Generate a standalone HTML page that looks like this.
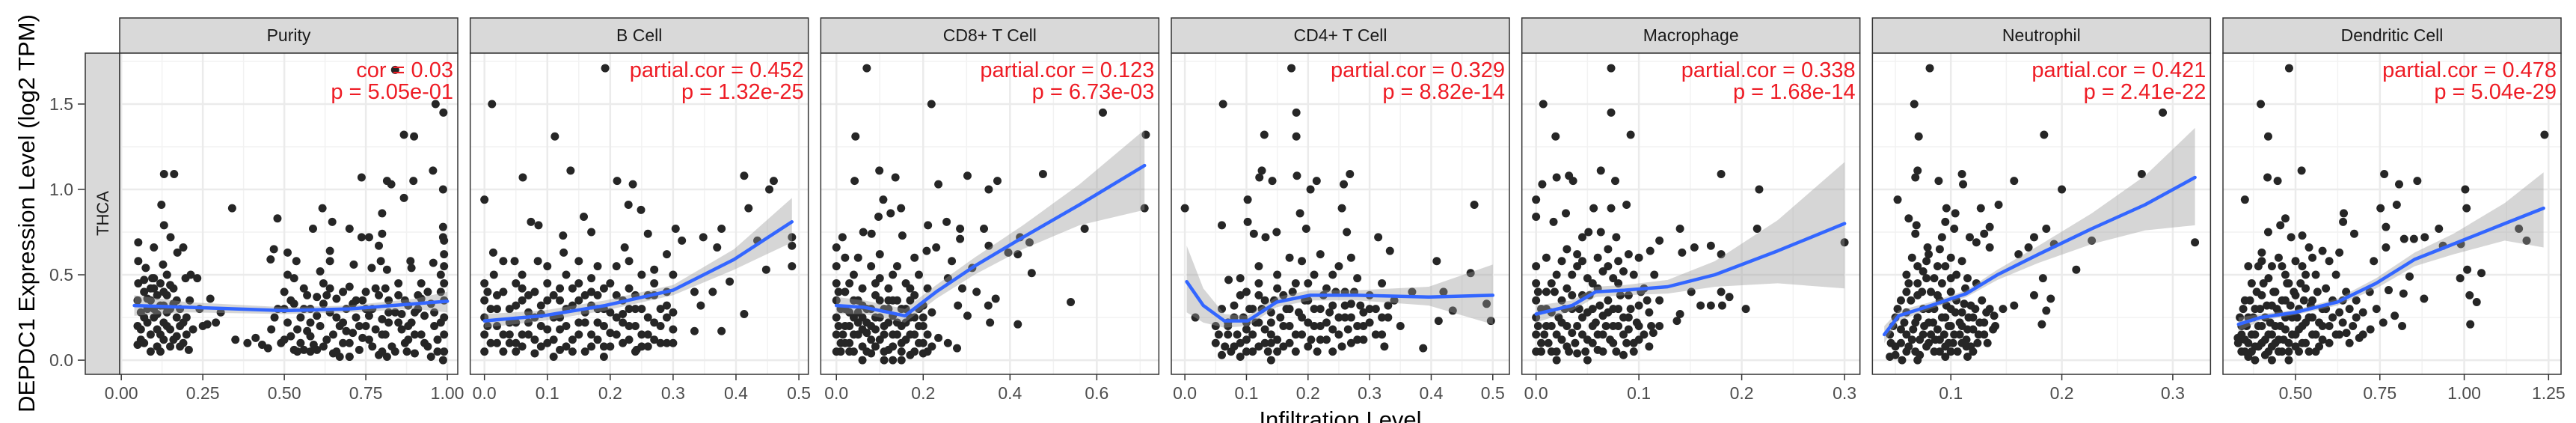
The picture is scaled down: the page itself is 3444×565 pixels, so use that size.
<!DOCTYPE html>
<html><head><meta charset="utf-8"><style>
html,body{margin:0;padding:0;background:#fff;}
svg{display:block;font-family:"Liberation Sans",Arial,sans-serif;}
</style></head><body>
<svg id="chart" width="3444" height="565" viewBox="0 0 3444 565" xmlns="http://www.w3.org/2000/svg"></svg>
<script>
const panelNames = ["Purity","B Cell","CD8+ T Cell","CD4+ T Cell","Macrophage","Neutrophil","Dendritic Cell"];
const corLabels = ["cor = 0.03","partial.cor = 0.452","partial.cor = 0.123","partial.cor = 0.329","partial.cor = 0.338","partial.cor = 0.421","partial.cor = 0.478"];
const pLabels = ["p = 5.05e-01","p = 1.32e-25","p = 6.73e-03","p = 8.82e-14","p = 1.68e-14","p = 2.41e-22","p = 5.04e-29"];
const xDomains = [[-0.005,1.032],[-0.0226,0.515],[-0.036,0.743],[-0.022,0.527],[-0.0138,0.315],[0.0293,0.334],[0.285,1.287]];
const xTicks = [[0,0.25,0.5,0.75,1.0],[0,0.1,0.2,0.3,0.4,0.5],[0,0.2,0.4,0.6],[0,0.1,0.2,0.3,0.4,0.5],[0,0.1,0.2,0.3],[0.1,0.2,0.3],[0.5,0.75,1.0,1.25]];
const xTickLabels = [["0.00","0.25","0.50","0.75","1.00"],["0.0","0.1","0.2","0.3","0.4","0.5"],["0.0","0.2","0.4","0.6"],["0.0","0.1","0.2","0.3","0.4","0.5"],["0.0","0.1","0.2","0.3"],["0.1","0.2","0.3"],["0.50","0.75","1.00","1.25"]];
const yTicks = [0,0.5,1.0,1.5];
const yTickLabels = ["0.0","0.5","1.0","1.5"];
const yDomain = [-0.083,1.798];

const pts0 = [[.84,1.70],[.964,1.50],[.988,1.45],[.867,1.32],[.898,1.31],[.956,1.11],[.737,1.07],[.815,1.05],[.828,1.03],[.896,1.05],[.987,1.00],[.867,.95],[.131,1.09],[.162,1.09],[.123,.91],[.34,.89],[.479,.83],[.617,.89],[.647,.81],[.588,.77],[.80,.86],[.70,.77],[.131,.79],[.151,.72],[.052,.69],[.10,.66],[.19,.66],[.172,.63],[.468,.65],[.51,.63],[.737,.72],[.76,.72],[.79,.67],[.80,.74],[.987,.78],[.987,.72],[.64,.64],[.64,.58],[.458,.59],[.537,.58],[.957,.57],[.887,.58],[.89,.54],[.713,.56],[.768,.54],[.796,.58],[.052,.58],[.075,.54],[.128,.56],[.14,.50],[.095,.48],[.197,.48],[.213,.50],[.233,.48],[.052,.45],[.51,.50],[.53,.48],[.815,.53],[.61,.52],[.35,.12],[.387,.10],[.412,.13],[.432,.09],[.45,.07],[.05,.09],[.207,.06],[.29,.22],[.264,.21],[.305,.28],[.273,.36],[.987,0.0],[.70,.02],[.67,.02],[.815,.02],[.876,.05],[.56,.06],[.58,.05],
[.05,.35],[.06,.28],[.05,.2],[.06,.12],[.07,.4],[.08,.3],[.08,.22],[.09,.15],[.09,.35],[.1,.42],[.1,.25],[.11,.18],[.11,.08],[.12,.32],[.12,.45],[.13,.22],[.13,.12],[.14,.38],[.14,.28],[.15,.18],[.15,.08],[.16,.33],[.16,.42],[.17,.25],[.17,.14],[.18,.3],[.18,.2],[.19,.1],[.2,.25],[.21,.35],[.22,.18],[.24,.3],[.25,.2],[.12,.05],[.1,.48],[.14,.5],[.07,.47],
[.46,.18],[.48,.3],[.49,.1],[.5,.4],[.51,.22],[.52,.14],[.53,.33],[.54,.05],[.55,.25],[.56,.42],[.57,.17],[.58,.3],[.59,.09],[.6,.37],[.61,.2],[.62,.45],[.63,.12],[.64,.28],[.65,.04],[.66,.36],[.67,.2],[.68,.1],[.69,.3],[.7,.43],[.71,.16],[.72,.25],[.73,.06],[.74,.35],[.75,.2],[.76,.12],[.77,.3],[.78,.42],[.79,.03],[.8,.24],[.81,.15],[.82,.35],[.83,.08],[.84,.28],[.85,.45],[.86,.18],[.87,.1],[.88,.32],[.89,.22],[.9,.04],[.91,.38],[.92,.15],[.93,.26],[.94,.08],[.95,.33],[.96,.2],[.97,.12],[.98,.4],[.99,.05],[.99,.15],[.99,.25],[.99,.35],[.99,.45],[.99,.55],[.99,.62],[.99,.7],[.98,.5],[.6,.06],[.7,.02],[.8,.05],[.75,.4],[.65,.15],[.85,.38],[.9,.28],[.55,.1],[.5,.3],[.62,.33],[.72,.35],[.82,.22],[.92,.45],[.68,.22],[.78,.18],[.88,.12],[.58,.22],[.95,.02]];
const core0 = [[.06,.18],[.07,.1],[.08,.36],[.09,.05],[.1,.3],[.11,.38],[.12,.15],[.13,.4],[.14,.2],[.15,.3],[.16,.12],[.17,.35],[.18,.08],[.19,.22],[.11,.27],[.13,.32],[.07,.25],[.09,.42],[.15,.44],[.2,.15],
[.47,.25],[.5,.12],[.52,.35],[.54,.18],[.56,.3],[.58,.14],[.6,.26],[.62,.08],[.63,.38],[.66,.25],[.68,.4],[.7,.1],[.71,.33],[.73,.2],[.75,.3],[.77,.08],[.79,.38],[.8,.15],[.82,.28],[.84,.05],[.85,.22],[.87,.35],[.88,.2],[.9,.15],[.91,.3],[.93,.1],[.94,.4],[.96,.28],[.97,.05],[.98,.22],[.66,.05],[.74,.13],[.86,.27],[.92,.36],[.81,.42],[.64,.42],[.57,.38],[.53,.06],[.76,.26],[.69,.17]];
const pts1 = [[.192,1.71],[.012,1.50],[.112,1.31],[.137,1.11],[.061,1.07],[.211,1.05],[.236,1.03],[.413,1.08],[.46,1.05],[.453,1.0],[0,.94],[.42,.89],[.229,.91],[.249,.88],[.074,.81],[.086,.79],[.158,.84],[.125,.73],[.17,.75],[.26,.74],[.304,.77],[.377,.77],[.348,.72],[.434,.70],[.489,.72],[.489,.67],[.37,.66],[.223,.66],[.314,.70],[.014,.63],[.126,.63],[.048,.58],[.085,.58],[.489,.55],[.448,.53],[.39,.46],[.334,.40],[.344,.32],[.413,.27],[.363,.40],[.334,.17],[.377,.17],[.242,.06],[.27,.53],[.29,.62],
[.0,.05],[.0,.15],[.0,.25],[.0,.35],[.0,.45],[.01,.1],[.01,.3],[.015,.5],[.02,.2],[.03,.05],[.03,.4],[.04,.15],[.04,.3],[.05,.22],[.05,.45],[.06,.08],[.06,.35],[.07,.15],[.07,.28],[.08,.04],[.08,.4],[.09,.2],[.09,.32],[.1,.1],[.1,.45],[.11,.25],[.11,.38],[.12,.06],[.12,.18],[.13,.3],[.13,.5],[.14,.12],[.14,.42],[.15,.22],[.15,.35],[.16,.05],[.16,.28],[.17,.15],[.17,.48],[.18,.38],[.18,.22],[.19,.08],[.19,.3],[.2,.45],[.2,.16],[.21,.25],[.21,.55],[.22,.35],[.22,.1],[.23,.2],[.23,.42],[.24,.3],[.24,.05],[.25,.5],[.25,.15],[.26,.25],[.26,.38],[.27,.12],[.27,.45],[.28,.3],[.28,.2],[.29,.4],[.29,.1],[.3,.28],[.3,.5],[.3,.18],[.02,.38],[.06,.5],[.1,.55],[.15,.58],[.18,.55],[.23,.58],[.12,.35],[.08,.25],[.17,.4],[.22,.27],[.03,.58],[.05,.1],[.11,.02],[.19,.02],[.26,.08]];
const core1 = [[.005,.2],[.005,.4],[.02,.1],[.02,.3],[.03,.15],[.04,.22],[.05,.05],[.05,.32],[.06,.15],[.07,.22],[.07,.38],[.08,.12],[.09,.08],[.09,.27],[.1,.18],[.1,.35],[.11,.12],[.12,.25],[.12,.42],[.13,.08],[.13,.2],[.14,.32],[.15,.15],[.15,.45],[.16,.22],[.16,.38],[.17,.08],[.17,.32],[.18,.12],[.18,.3],[.19,.2],[.19,.42],[.2,.08],[.2,.28],[.21,.15],[.21,.38],[.22,.22],[.23,.12],[.23,.3],[.24,.2],[.24,.38],[.25,.08],[.25,.3],[.26,.15],[.27,.22],[.27,.38],[.28,.1],[.29,.25],[.29,.32],[.3,.1],[.04,.1],[.14,.05],[.06,.42]];
const pts2 = [[.07,1.71],[.219,1.50],[.614,1.45],[.044,1.31],[.713,1.32],[.099,1.11],[.136,1.07],[.042,1.05],[.235,1.03],[.302,1.08],[.371,1.05],[.351,1.0],[.476,1.09],[.108,.94],[.149,.89],[.125,.86],[.097,.84],[.211,.79],[.254,.81],[.285,.77],[.285,.71],[.34,.77],[.572,.77],[.014,.72],[.062,.75],[.081,.74],[.152,.73],[.71,.89],[.208,.64],[.23,.66],[.351,.67],[.266,.58],[.396,.63],[.423,.72],[.445,.69],[.418,.62],[.45,.51],[.313,.54],[.257,.48],[.29,.42],[.323,.40],[.367,.36],[.35,.32],[.28,.32],[.302,.26],[.54,.34],[.354,.22],[.418,.21],[.278,.07],[.257,.10],[.235,.13],[.0,.66],
[.0,.05],[.0,.15],[.0,.25],[.0,.35],[.0,.45],[.0,.55],[.01,.1],[.01,.3],[.02,.2],[.02,.4],[.02,.6],[.03,.05],[.03,.28],[.04,.15],[.04,.5],[.05,.35],[.05,.22],[.06,.08],[.06,.42],[.07,.3],[.07,.16],[.08,.55],[.08,.04],[.09,.25],[.09,.38],[.1,.12],[.1,.48],[.11,.2],[.11,.3],[.12,.06],[.12,.42],[.13,.15],[.13,.26],[.14,.35],[.14,.55],[.15,.1],[.15,.2],[.16,.45],[.16,.3],[.17,.03],[.17,.15],[.18,.25],[.18,.38],[.19,.1],[.19,.5],[.2,.2],[.2,.32],[.21,.15],[.21,.42],[.22,.28],[.22,.08],[.05,.6],[.1,.62],[.03,.45],[.13,.5],[.18,.6],[.11,.0],[.15,.0],[.2,.04],[.06,.25],[.12,.35],[.08,.2]];
const core2 = [[.005,.2],[.005,.4],[.01,.05],[.015,.15],[.02,.3],[.03,.1],[.03,.2],[.04,.35],[.04,.05],[.05,.15],[.05,.28],[.06,.18],[.06,.32],[.07,.05],[.07,.22],[.08,.12],[.08,.3],[.09,.08],[.09,.18],[.1,.25],[.1,.35],[.11,.05],[.11,.15],[.12,.22],[.12,.3],[.13,.08],[.13,.35],[.14,.15],[.14,.22],[.15,.05],[.15,.3],[.16,.12],[.16,.22],[.17,.25],[.17,.35],[.18,.05],[.18,.15],[.19,.2],[.19,.3],[.2,.1],[.2,.25],[.21,.05],[.06,.0],[.09,.45],[.02,.1],[.13,.0],[.17,.42],[.04,.25]];
const pts3 = [[.173,1.71],[.062,1.50],[.181,1.45],[.129,1.32],[.181,1.31],[.125,1.11],[.121,1.07],[.142,1.05],[.182,1.08],[.214,1.05],[.268,1.09],[.258,1.03],[.204,1.0],[.102,.94],[.0,.89],[.255,.89],[.47,.91],[.06,.79],[.102,.81],[.187,.86],[.197,.77],[.149,.75],[.112,.74],[.131,.72],[.263,.75],[.314,.72],[.333,.64],[.409,.58],[.464,.51],[.071,.47],[.017,.25],[.412,.23],[.387,.07],[.324,.08],[.435,.29],[.497,.23],[.49,.33],[.369,.40],[.42,.40],
[.05,.1],[.05,.2],[.06,.03],[.06,.3],[.07,.15],[.08,.08],[.08,.25],[.09,.38],[.09,.02],[.1,.18],[.1,.12],[.11,.3],[.11,.05],[.12,.22],[.12,.45],[.13,.1],[.13,.35],[.14,.15],[.14,.28],[.15,.05],[.15,.5],[.16,.2],[.16,.38],[.17,.1],[.17,.3],[.18,.45],[.18,.15],[.19,.25],[.19,.58],[.2,.08],[.2,.35],[.21,.2],[.21,.5],[.22,.3],[.22,.12],[.23,.42],[.23,.22],[.24,.05],[.24,.32],[.25,.15],[.25,.55],[.26,.25],[.26,.4],[.27,.1],[.27,.33],[.28,.2],[.28,.48],[.29,.28],[.29,.12],[.3,.38],[.3,.22],[.31,.3],[.32,.15],[.32,.45],[.33,.25],[.34,.35],[.35,.2],[.12,.55],[.17,.6],[.22,.62],[.27,.6],[.1,.4],[.15,.42],[.2,.45],[.07,.22],[.14,.0],[.09,.48],[.24,.5]];
const core3 = [[.055,.15],[.065,.08],[.07,.2],[.075,.05],[.085,.15],[.09,.1],[.095,.25],[.1,.05],[.105,.3],[.11,.15],[.115,.22],[.12,.08],[.125,.3],[.13,.18],[.135,.05],[.14,.22],[.145,.35],[.15,.12],[.155,.25],[.16,.08],[.165,.3],[.17,.2],[.175,.4],[.18,.05],[.185,.28],[.19,.15],[.195,.35],[.2,.22],[.205,.12],[.21,.3],[.215,.05],[.22,.2],[.225,.38],[.23,.12],[.235,.28],[.24,.18],[.245,.4],[.25,.25],[.255,.08],[.26,.32],[.265,.18],[.27,.25],[.275,.4],[.28,.12],[.285,.32],[.29,.2],[.3,.3],[.31,.15],[.32,.25],[.33,.32],[.08,.32],[.1,.22],[.12,.38],[.14,.1]];
const pts4 = [[.073,1.71],[.007,1.50],[.073,1.45],[.019,1.31],[.092,1.32],[.063,1.11],[.02,1.07],[.032,1.08],[.036,1.05],[.006,1.03],[.077,1.05],[.18,1.09],[.217,1.0],[0,.94],[.056,.89],[.073,.89],[.088,.91],[.029,.86],[.017,.81],[0,.84],[.14,.77],[.215,.77],[.3,.69],[.051,.75],[.063,.75],[.078,.72],[.045,.72],[.12,.70],[.17,.67],[.154,.66],[.142,.63],[.18,.62],[.111,.64],[.151,.40],[.16,.32],[.17,.32],[.181,.32],[.18,.40],[.188,.37],[.204,.30],[.14,.27],[.137,.23],[.114,.16],
[.0,.05],[.0,.15],[.0,.25],[.0,.35],[.0,.45],[.0,.55],[.005,.1],[.005,.3],[.01,.2],[.01,.4],[.01,.6],[.015,.05],[.015,.28],[.02,.15],[.02,.5],[.025,.35],[.025,.22],[.03,.08],[.03,.42],[.035,.3],[.035,.16],[.04,.55],[.04,.04],[.045,.25],[.045,.38],[.05,.12],[.05,.48],[.055,.2],[.055,.3],[.06,.06],[.06,.42],[.065,.15],[.065,.26],[.07,.35],[.07,.55],[.075,.1],[.075,.2],[.08,.45],[.08,.3],[.085,.03],[.085,.15],[.09,.25],[.09,.38],[.095,.1],[.095,.5],[.1,.2],[.1,.32],[.105,.15],[.105,.42],[.11,.28],[.11,.08],[.115,.5],[.12,.35],[.12,.2],[.04,.62],[.06,.6],[.08,.58],[.1,.6],[.02,.0],[.05,.0],[.03,.65],[.07,.65],[.09,.62]];
const core4 = [[.002,.2],[.002,.4],[.005,.05],[.008,.15],[.01,.3],[.012,.1],[.015,.2],[.018,.4],[.02,.05],[.022,.25],[.025,.12],[.028,.3],[.03,.2],[.032,.05],[.035,.38],[.038,.1],[.04,.2],[.042,.3],[.045,.15],[.048,.05],[.05,.28],[.052,.38],[.055,.1],[.058,.22],[.06,.15],[.062,.32],[.065,.05],[.068,.2],[.07,.28],[.072,.12],[.075,.3],[.078,.05],[.08,.2],[.082,.38],[.085,.25],[.088,.1],[.09,.18],[.092,.3],[.095,.05],[.098,.22],[.1,.12],[.102,.4],[.108,.35],[.112,.2],[.015,.45],[.035,.5],[.055,.45],[.075,.48],[.025,.58],[.045,.58],[.065,.52],[.085,.52]];
const pts5 = [[.081,1.71],[.067,1.50],[.071,1.31],[.184,1.32],[.291,1.45],[.07,1.11],[.068,1.07],[.089,1.05],[.11,1.09],[.111,1.03],[.157,1.05],[.272,1.09],[.2,1.0],[.052,.94],[.096,.89],[.104,.86],[.127,.89],[.143,.91],[.062,.83],[.069,.79],[.095,.81],[.103,.77],[.186,.77],[.068,.74],[.092,.72],[.117,.72],[.13,.74],[.135,.78],[.175,.72],[.227,.70],[.32,.69],[.079,.66],[.123,.69],[.135,.66],[.17,.66],[.161,.62],[.193,.68],[.213,.53],[.183,.48],[.175,.38],[.19,.36],[.186,.29],[.182,.21],[.157,.32],[.147,.30],[.139,.26],[.14,.20],[.114,.08],[.045,.02],[.056,0.0],
[.045,.15],[.05,.25],[.05,.08],[.055,.35],[.055,.18],[.06,.05],[.06,.28],[.062,.45],[.065,.12],[.068,.22],[.07,.55],[.07,.38],[.072,.03],[.075,.15],[.075,.3],[.078,.48],[.08,.1],[.08,.22],[.082,.4],[.085,.05],[.085,.3],[.088,.18],[.088,.55],[.09,.12],[.09,.35],[.092,.45],[.095,.08],[.095,.25],[.098,.2],[.1,.4],[.1,.3],[.1,.05],[.103,.15],[.105,.5],[.105,.35],[.108,.22],[.11,.1],[.11,.28],[.113,.42],[.115,.18],[.118,.32],[.12,.05],[.12,.25],[.123,.45],[.125,.15],[.128,.35],[.13,.22],[.133,.1],[.135,.3],[.138,.18],[.065,.6],[.08,.62],[.09,.65],[.1,.6],[.06,.5],[.078,.58],[.11,.58],[.095,.02],[.115,.02],[.07,.0]];
const core5 = [[.046,.1],[.048,.2],[.05,.03],[.052,.3],[.055,.1],[.058,.22],[.06,.15],[.062,.08],[.064,.35],[.066,.18],[.068,.05],[.07,.25],[.072,.12],[.074,.4],[.076,.2],[.078,.08],[.08,.3],[.082,.15],[.084,.22],[.086,.12],[.088,.38],[.09,.05],[.092,.25],[.094,.15],[.096,.32],[.098,.1],[.1,.2],[.102,.1],[.104,.28],[.106,.05],[.108,.15],[.11,.2],[.112,.33],[.114,.12],[.116,.25],[.118,.08],[.12,.18],[.122,.3],[.124,.1],[.126,.22],[.13,.15],[.132,.28],[.07,.45],[.085,.48],[.1,.48],[.115,.48],[.075,.52],[.095,.55],[.06,.4]];
const pts6 = [[.481,1.71],[.397,1.50],[.419,1.31],[.518,1.11],[.417,1.07],[.447,1.05],[.763,1.09],[.807,1.03],[.861,1.05],[1.003,1.0],[1.007,.89],[1.238,1.32],[.35,.94],[.752,.89],[.8,.91],[.643,.86],[.641,.81],[.47,.83],[.455,.79],[.768,.78],[.925,.77],[1.162,.77],[1.185,.70],[.419,.75],[.487,.72],[.52,.73],[.674,.74],[.822,.71],[.851,.71],[.883,.72],[.937,.67],[.99,.68],[.768,.66],[.54,.66],[.58,.64],[.63,.63],[.4,.63],[1.009,.53],[1.051,.51],[.988,.48],[.881,.36],[1.016,.38],[1.037,.34],[1.018,.21],[.816,.20],[.794,.26],[.76,.22],[.82,.39],[.838,.49],[.732,.58],[.776,.41],[.689,.13],[.722,.18],[.651,.16],[.329,.13],
[.34,.05],[.34,.2],[.35,.12],[.35,.35],[.36,.02],[.36,.25],[.37,.15],[.37,.45],[.38,.08],[.38,.3],[.39,.2],[.39,.55],[.4,.1],[.4,.38],[.41,.03],[.41,.25],[.42,.15],[.42,.48],[.43,.32],[.43,.08],[.44,.2],[.44,.4],[.45,.12],[.45,.28],[.46,.05],[.46,.55],[.47,.18],[.47,.35],[.48,.1],[.48,.45],[.49,.25],[.5,.15],[.5,.38],[.51,.05],[.51,.3],[.52,.2],[.52,.55],[.53,.1],[.53,.42],[.54,.25],[.55,.15],[.55,.35],[.56,.05],[.56,.5],[.57,.22],[.58,.3],[.58,.12],[.59,.42],[.6,.2],[.61,.35],[.62,.15],[.62,.5],[.63,.28],[.64,.22],[.65,.4],[.66,.3],[.67,.2],[.68,.35],[.7,.28],[.72,.4],[.74,.3],[.36,.55],[.4,.58],[.45,.6],[.5,.58],[.55,.6],[.6,.58],[.38,.0],[.43,0],[.48,.0]];
const core6 = [[.33,.1],[.335,.25],[.34,.15],[.345,.3],[.35,.05],[.355,.2],[.36,.1],[.365,.35],[.37,.05],[.375,.25],[.38,.15],[.385,.4],[.39,.08],[.395,.3],[.4,.2],[.405,.45],[.41,.12],[.415,.32],[.42,.05],[.425,.22],[.43,.15],[.435,.4],[.44,.1],[.445,.3],[.45,.05],[.455,.2],[.46,.35],[.465,.12],[.47,.25],[.475,.45],[.48,.05],[.485,.32],[.49,.15],[.495,.4],[.5,.08],[.505,.25],[.51,.18],[.515,.45],[.52,.1],[.525,.35],[.53,.22],[.54,.05],[.545,.32],[.55,.25],[.56,.15],[.565,.4],[.57,.08],[.58,.2],[.59,.3],[.6,.1],[.61,.25],[.63,.15],[.64,.35],[.66,.1],[.68,.25],[.7,.15],[.47,.5],[.43,.55],[.53,.5]];
const allPoints = [pts0.concat(core0),pts1.concat(core1),pts2.concat(core2),pts3.concat(core3),pts4.concat(core4),pts5.concat(core5),pts6.concat(core6)];

// loess fit: [x, fit, lower, upper]
const fit0 = [[.04,.32,.26,.38],[.2,.31,.28,.34],[.5,.29,.27,.31],[.7,.30,.28,.32],[.9,.33,.30,.36],[1.0,.345,.28,.40]];
const fit1 = [[0,.23,.19,.27],[.093,.26,.23,.29],[.192,.32,.29,.35],[.30,.41,.38,.44],[.397,.59,.53,.65],[.489,.81,.69,.95]];
const fit2 = [[0,.32,.27,.37],[.064,.31,.27,.35],[.158,.26,.22,.30],[.23,.40,.36,.44],[.318,.55,.50,.60],[.43,.72,.65,.79],[.56,.91,.79,1.03],[.71,1.14,.88,1.35]];
const fit3 = [[.003,.46,.28,.67],[.03,.32,.22,.42],[.064,.23,.19,.27],[.102,.23,.20,.26],[.149,.34,.31,.37],[.203,.38,.35,.41],[.28,.38,.35,.41],[.396,.37,.32,.43],[.5,.38,.21,.56]];
const fit4 = [[0,.27,.22,.32],[.035,.32,.29,.35],[.058,.40,.37,.43],[.086,.41,.38,.44],[.128,.43,.39,.47],[.174,.50,.43,.58],[.235,.64,.45,.82],[.3,.80,.42,1.16]];
const fit5 = [[.04,.15,.10,.20],[.053,.26,.23,.29],[.082,.32,.30,.34],[.114,.39,.37,.41],[.142,.50,.47,.53],[.179,.62,.57,.67],[.227,.77,.68,.86],[.275,.91,.76,1.08],[.32,1.07,.79,1.36]];
const fit6 = [[.331,.21,.17,.25],[.396,.25,.23,.27],[.5,.28,.265,.295],[.624,.34,.32,.36],[.739,.45,.42,.48],[.853,.59,.55,.63],[.968,.68,.62,.74],[1.12,.80,.70,.92],[1.235,.89,.66,1.10]];
const allFits = [fit0,fit1,fit2,fit3,fit4,fit5,fit6];

const NS = "http://www.w3.org/2000/svg";
const svg = document.getElementById("chart");
function mk(tag, attrs, parent, text){
  const e = document.createElementNS(NS, tag);
  for (const k in attrs) e.setAttribute(k, attrs[k]);
  if (text !== undefined) e.textContent = text;
  (parent || svg).appendChild(e);
  return e;
}
const PT = 71, PB = 500, PW = 452;
const panelLeft = i => 160 + i * 468.67;
const yScale = v => PB - (v - yDomain[0]) / (yDomain[1] - yDomain[0]) * (PB - PT);

const yt = mk("text", {x:0, y:0, transform:"translate(46,285) rotate(-90)", "text-anchor":"middle", "font-size":"31", fill:"#000"}, svg, "DEPDC1 Expression Level (log2 TPM)");



const rs = mk("rect", {x:114, y:PT, width:46, height:PB-PT, fill:"#d9d9d9", stroke:"#333", "stroke-width":"1.5"});


const rst = mk("text", {x:0, y:0, transform:"translate(145,285) rotate(-90)", "text-anchor":"middle", "font-size":"22", fill:"#1a1a1a"}, svg, "THCA");



yTicks.forEach((v, k) => {
  const y = yScale(v);
  const tm = mk("line", {x1:104, x2:113, y1:y, y2:y, stroke:"#333", "stroke-width":"1.5"});
  
  
  const tl = mk("text", {x:98, y:y+8, "text-anchor":"end", "font-size":"23", fill:"#4d4d4d"}, svg, yTickLabels[k]);
  
  
});

for (let i = 0; i < 7; i++) {
  const L = panelLeft(i), R = L + PW;
  const d = xDomains[i];
  const xs = v => L + (v - d[0]) / (d[1] - d[0]) * PW;
  const g = mk("g", {});
  
  

  const st = mk("rect", {x:L, y:24, width:PW, height:PT-24, fill:"#d9d9d9", stroke:"#333", "stroke-width":"1.5"}, g);
  
  
  const stt = mk("text", {x:L+PW/2, y:55, "text-anchor":"middle", "font-size":"23", fill:"#1a1a1a"}, g, panelNames[i]);
  
  

  const bg = mk("rect", {x:L, y:PT, width:PW, height:PB-PT, fill:"#fff"}, g);
  
  

  for (let k = 0; k < yTicks.length + 1; k++) {
    const v = -0.25 + k * 0.5;
    const y = yScale(v);
    if (y > PT && y < PB) {
      const gl = mk("line", {x1:L, x2:R, y1:y, y2:y, stroke:"#f2f2f2", "stroke-width":"1.5"}, g);
      
      
    }
  }
  const tks = xTicks[i];
  const step = tks[1] - tks[0];
  for (let k = -1; k < tks.length; k++) {
    const v = tks[0] + (k + 0.5) * step;
    const x = xs(v);
    if (x > L && x < R) {
      const gl = mk("line", {x1:x, x2:x, y1:PT, y2:PB, stroke:"#f2f2f2", "stroke-width":"1.5"}, g);
      
      
    }
  }
  yTicks.forEach(v => {
    const gl = mk("line", {x1:L, x2:R, y1:yScale(v), y2:yScale(v), stroke:"#ebebeb", "stroke-width":"2.5"}, g);
    
    
  });
  tks.forEach((v, k) => {
    const x = xs(v);
    const gl = mk("line", {x1:x, x2:x, y1:PT, y2:PB, stroke:"#ebebeb", "stroke-width":"2.5"}, g);
    
    
    const tm = mk("line", {x1:x, x2:x, y1:PB, y2:PB+8, stroke:"#333", "stroke-width":"1.5"}, g);
    
    
    const tl = mk("text", {x:x, y:533, "text-anchor":"middle", "font-size":"23", fill:"#4d4d4d"}, g, xTickLabels[i][k]);
    
    
  });

  allPoints[i].forEach(p => {
    const c = mk("circle", {cx:xs(p[0]), cy:yScale(p[1]), r:5.5, fill:"#262626"}, g);
    
    
  });

  const f = allFits[i];
  let bandD = f.map((q, k) => (k ? "L" : "M") + xs(q[0]).toFixed(1) + "," + yScale(q[3]).toFixed(1)).join(" ");
  bandD += " " + f.slice().reverse().map(q => "L" + xs(q[0]).toFixed(1) + "," + yScale(q[2]).toFixed(1)).join(" ") + " Z";
  const band = mk("path", {d:bandD, fill:"#999", "fill-opacity":"0.4", stroke:"none"}, g);
  
  
  const lineD = f.map((q, k) => (k ? "L" : "M") + xs(q[0]).toFixed(1) + "," + yScale(q[1]).toFixed(1)).join(" ");
  const ln = mk("path", {d:lineD, fill:"none", stroke:"#3366ff", "stroke-width":"4.5", "stroke-linejoin":"round", "stroke-linecap":"round"}, g);
  
  

  const bd = mk("rect", {x:L, y:PT, width:PW, height:PB-PT, fill:"none", stroke:"#333", "stroke-width":"1.5"}, g);
  
  

  const a1 = mk("text", {x:R-6, y:103, "text-anchor":"end", "font-size":"29", fill:"#ee1c25"}, g, corLabels[i]);
  
  
  const a2 = mk("text", {x:R-6, y:132, "text-anchor":"end", "font-size":"29", fill:"#ee1c25"}, g, pLabels[i]);
  
  
}

const xt = mk("text", {x:1792, y:571, "text-anchor":"middle", "font-size":"31", fill:"#000"}, svg, "Infiltration Level");


</script>
</body></html>
